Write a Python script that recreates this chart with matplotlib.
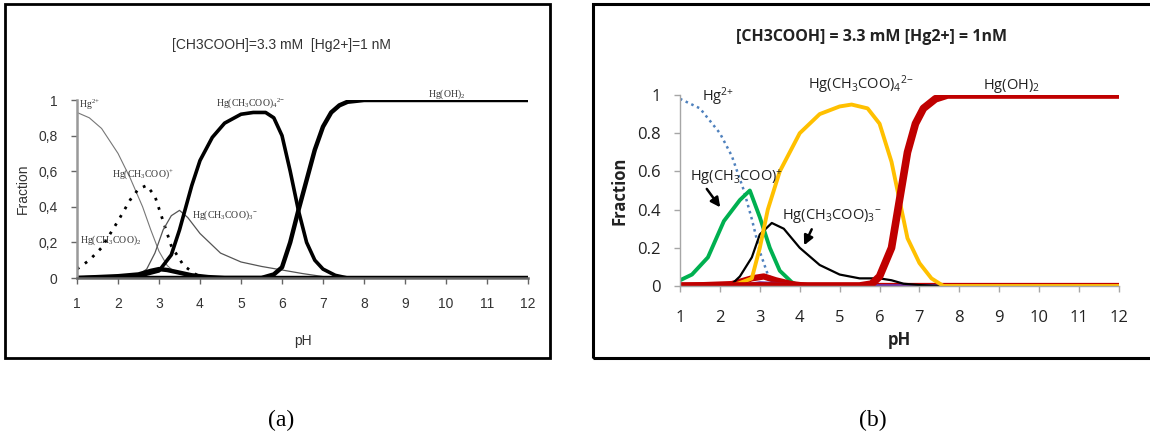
import matplotlib.pyplot as plt
from matplotlib.patches import Rectangle

# ---- panel (a): digitised fractions ----
a_hg_ph = [1.0, 1.3, 1.6, 2.0, 2.3, 2.6, 2.8, 3.0, 3.2, 3.4, 3.7, 4.0]
a_hg = [0.93, 0.9, 0.84, 0.7, 0.56, 0.4, 0.27, 0.15, 0.07, 0.03, 0.01, 0.0]

a_m1_ph = [1.0, 1.3, 1.6, 2.0, 2.3, 2.5, 2.7, 2.9, 3.1, 3.3, 3.6, 3.9, 4.2]
a_m1 = [0.05, 0.1, 0.17, 0.32, 0.44, 0.5, 0.52, 0.46, 0.32, 0.18, 0.07, 0.02, 0.0]

a_m2_ph = [1.0, 2.0, 2.5, 2.8, 3.0, 3.2, 3.5, 3.8, 4.2, 4.6, 12.0]
a_m2 = [0.0, 0.01, 0.02, 0.04, 0.05, 0.045, 0.03, 0.015, 0.005, 0.0, 0.0]

a_m3_ph = [1.0, 2.4, 2.7, 2.9, 3.1, 3.3, 3.5, 3.7, 4.0, 4.5, 5.0, 5.5, 6.0, 6.5, 7.0, 7.5]
a_m3 = [0.0, 0.0, 0.05, 0.14, 0.27, 0.35, 0.38, 0.34, 0.25, 0.14, 0.09, 0.065, 0.045, 0.025, 0.008, 0.0]

a_m4_ph = [1.0, 2.5, 3.0, 3.3, 3.5, 3.8, 4.0, 4.3, 4.6, 5.0, 5.3, 5.6, 5.8, 6.0, 6.2, 6.4, 6.6, 6.8, 7.0, 7.3, 7.6, 12.0]
a_m4 = [0.0, 0.01, 0.04, 0.13, 0.27, 0.52, 0.66, 0.79, 0.87, 0.92, 0.93, 0.93, 0.9, 0.8, 0.6, 0.38, 0.2, 0.1, 0.05, 0.015, 0.0, 0.0]

a_oh_ph = [1.0, 5.5, 5.8, 6.0, 6.2, 6.4, 6.6, 6.8, 7.0, 7.2, 7.4, 7.6, 8.0, 12.0]
a_oh = [0.0, 0.0, 0.02, 0.06, 0.2, 0.38, 0.55, 0.72, 0.85, 0.93, 0.97, 0.99, 1.0, 1.0]

# ---- panel (b): digitised fractions ----
b_hg_ph = [1.0, 1.5, 2.0, 2.3, 2.6, 2.8, 3.0, 3.2, 3.4, 3.6]
b_hg = [0.98, 0.93, 0.8, 0.68, 0.5, 0.35, 0.18, 0.06, 0.02, 0.0]

b_m1_ph = [1.0, 1.3, 1.7, 2.1, 2.5, 2.75, 3.0, 3.25, 3.5, 3.8, 4.0, 12.0]
b_m1 = [0.03, 0.06, 0.15, 0.34, 0.45, 0.5, 0.36, 0.2, 0.08, 0.02, 0.0, 0.0]

b_m2_ph = [1.0, 2.3, 2.8, 3.1, 3.4, 3.8, 4.2, 12.0]
b_m2 = [0.0, 0.01, 0.04, 0.05, 0.03, 0.01, 0.0, 0.0]

b_m3_ph = [1.0, 2.3, 2.5, 2.8, 3.0, 3.3, 3.6, 4.0, 4.5, 5.0, 5.5, 6.0, 6.3, 6.6, 7.0, 7.5]
b_m3 = [0.0, 0.01, 0.05, 0.15, 0.27, 0.33, 0.3, 0.2, 0.11, 0.06, 0.04, 0.04, 0.03, 0.012, 0.005, 0.0]

b_m4_ph = [1.0, 2.3, 2.8, 3.0, 3.2, 3.5, 4.0, 4.5, 5.0, 5.3, 5.7, 6.0, 6.3, 6.5, 6.7, 7.0, 7.3, 7.6, 12.0]
b_m4 = [0.0, 0.0, 0.04, 0.2, 0.4, 0.6, 0.8, 0.9, 0.94, 0.95, 0.93, 0.85, 0.65, 0.45, 0.25, 0.12, 0.04, 0.0, 0.0]

b_oh_ph = [1.0, 5.5, 5.8, 6.0, 6.3, 6.5, 6.7, 6.9, 7.1, 7.4, 7.7, 12.0]
b_oh = [0.0, 0.0, 0.01, 0.05, 0.2, 0.45, 0.7, 0.85, 0.93, 0.98, 1.0, 1.0]

b_m0_ph = [1.0, 2.5, 3.0, 3.5, 4.0, 4.5, 12.0]
b_m0 = [0.0, 0.0, 0.015, 0.01, 0.003, 0.0, 0.0]

ph_ticks = list(range(1, 13))
frac_ticks = [0, 0.2, 0.4, 0.6, 0.8, 1]
frac_labels_a = ["0", "0,2", "0,4", "0,6", "0,8", "1"]
frac_labels_b = ["0", "0.2", "0.4", "0.6", "0.8", "1"]

species = {
    "hg": "Hg$^{2{+}}$",
    "m1": "Hg(CH$_3$COO)$^{{+}}$",
    "m2": "Hg(CH$_3$COO)$_2$",
    "m3": "Hg(CH$_3$COO)$_3$$^{{-}}$",
    "m4": "Hg(CH$_3$COO)$_4$$^{2{-}}$",
    "oh": "Hg(OH)$_2$",
}

# math sub/superscripts in the same font as the surrounding text
plt.rcParams["mathtext.default"] = "regular"

W, H = 1150, 436
fig = plt.figure(figsize=(11.5, 4.36), dpi=100)


def px(x0, y0, x1, y1):
    # pixel box (top-left origin) -> figure fraction rect
    return [x0 / W, 1 - y1 / H, (x1 - x0) / W, (y1 - y0) / H]


# frames around the two panels
fig.patches.append(Rectangle((5 / W, 1 - 358 / H), 545 / W, 354 / H, transform=fig.transFigure,
                             fill=False, lw=2, ec="black"))
fig.patches.append(Rectangle((593 / W, 1 - 358 / H), 600 / W, 354 / H, transform=fig.transFigure,
                             fill=False, lw=2.2, ec="black"))

# ---------------- panel (a) ----------------
ax = fig.add_axes(px(77, 100, 528, 278))
ax.plot(a_hg_ph, a_hg, color="#777777", lw=0.8)
ax.plot(a_m1_ph, a_m1, color="black", lw=2.0, ls=(0, (1, 2.5)))
ax.plot(a_m3_ph, a_m3, color="#555555", lw=0.9)
ax.plot(a_m2_ph, a_m2, color="black", lw=3.2)
ax.plot(a_m4_ph, a_m4, color="black", lw=2.6)
ax.plot(a_oh_ph, a_oh, color="black", lw=3.2)
ax.set_xlim(1, 12)
ax.set_ylim(0, 1)
ax.set_xticks(ph_ticks)
ax.set_yticks(frac_ticks)
ax.set_yticklabels(frac_labels_a)
for s in ["top", "right"]:
    ax.spines[s].set_visible(False)
ax.spines["left"].set_color("#999999")
ax.spines["left"].set_linewidth(1.8)
ax.spines["bottom"].set_color("#666666")
ax.spines["bottom"].set_linewidth(1.8)
ax.tick_params(direction="out", length=4, width=1, colors="#666666", labelcolor="#333333",
               labelsize=10, pad=10)
for t in ax.get_xticklabels() + ax.get_yticklabels():
    t.set_family("Liberation Sans")
ax.set_xlabel("pH", family="Liberation Sans", fontsize=10, color="#333333", labelpad=16)
ax.set_ylabel("Fraction", family="Liberation Sans", fontsize=10, color="#333333", labelpad=6)
fig.text(281 / W, 1 - 45 / H, "[CH3COOH]=3.3 mM  [Hg2+]=1 nM", family="Liberation Sans",
         fontsize=10, color="#333333", ha="center", va="center")
lab = dict(family="Liberation Serif", fontsize=7, color="#333333")
ax.text(1.05, 0.955, species["hg"], **lab)
ax.text(4.4, 0.965, species["m4"], **lab)
ax.text(9.55, 1.02, species["oh"], **lab)
ax.text(1.85, 0.57, species["m1"], **lab)
ax.text(3.8, 0.34, species["m3"], **lab)
ax.text(1.08, 0.2, species["m2"], **lab)

# ---------------- panel (b) ----------------
bx = fig.add_axes(px(680, 95, 1119, 286))
bx.plot(b_hg_ph, b_hg, color="#4f81bd", lw=1.8, ls=(0, (1, 1.5)))
bx.plot(b_m1_ph, b_m1, color="#00b050", lw=2.8)
bx.plot(b_m2_ph, b_m2, color="#c00000", lw=4.5)
bx.plot(b_m0_ph, b_m0, color="#7030a0", lw=2.8)
bx.plot(b_m3_ph, b_m3, color="black", lw=1.6)
bx.plot(b_m4_ph, b_m4, color="#ffc000", lw=2.8)
bx.plot(b_oh_ph, b_oh, color="#c00000", lw=5.5)
bx.set_xlim(1, 12)
bx.set_ylim(0, 1)
bx.set_xticks(ph_ticks)
bx.set_yticks(frac_ticks)
bx.set_yticklabels(frac_labels_b)
for s in ["top", "right"]:
    bx.spines[s].set_visible(False)
for s in ["left", "bottom"]:
    bx.spines[s].set_color("#a6a6a6")
    bx.spines[s].set_linewidth(1)
bx.tick_params(direction="out", length=4, width=1, colors="#a6a6a6", labelcolor="#222222",
               labelsize=12, pad=10)
bx.tick_params(axis="x", pad=13)
for t in bx.get_xticklabels() + bx.get_yticklabels():
    t.set_family("Open Sans")
bx.set_xlabel("pH", family="Open Sans", fontsize=12, fontweight="bold", color="#222222", labelpad=4)
bx.set_ylabel("Fraction", family="Open Sans", fontsize=12, fontweight="bold", color="#222222", labelpad=6)
fig.text(872 / W, 1 - 37 / H, "[CH3COOH] = 3.3 mM [Hg2+] = 1nM", family="Open Sans",
         fontsize=11.5, fontweight="bold", color="#222222", ha="center", va="center")
lab_b = dict(family="Open Sans", fontsize=10.5, color="#222222")
bx.text(1.55, 0.97, species["hg"], **lab_b)
bx.text(4.2, 1.03, species["m4"], **lab_b)
bx.text(8.6, 1.03, species["oh"], **lab_b)
bx.text(1.25, 0.55, species["m1"], **lab_b)
bx.text(3.55, 0.35, species["m3"], **lab_b)
bx.annotate("", xy=(2.05, 0.4), xytext=(1.63, 0.52),
            arrowprops=dict(arrowstyle="-|>", color="black", lw=1.8, mutation_scale=14))
bx.annotate("", xy=(4.08, 0.2), xytext=(4.33, 0.31),
            arrowprops=dict(arrowstyle="-|>", color="black", lw=1.8, mutation_scale=14))

fig.text(281 / W, 1 - 420 / H, "(a)", family="Liberation Serif", fontsize=17, ha="center", va="center")
fig.text(873 / W, 1 - 420 / H, "(b)", family="Liberation Serif", fontsize=17, ha="center", va="center")

fig.savefig("out.png", dpi=100)
